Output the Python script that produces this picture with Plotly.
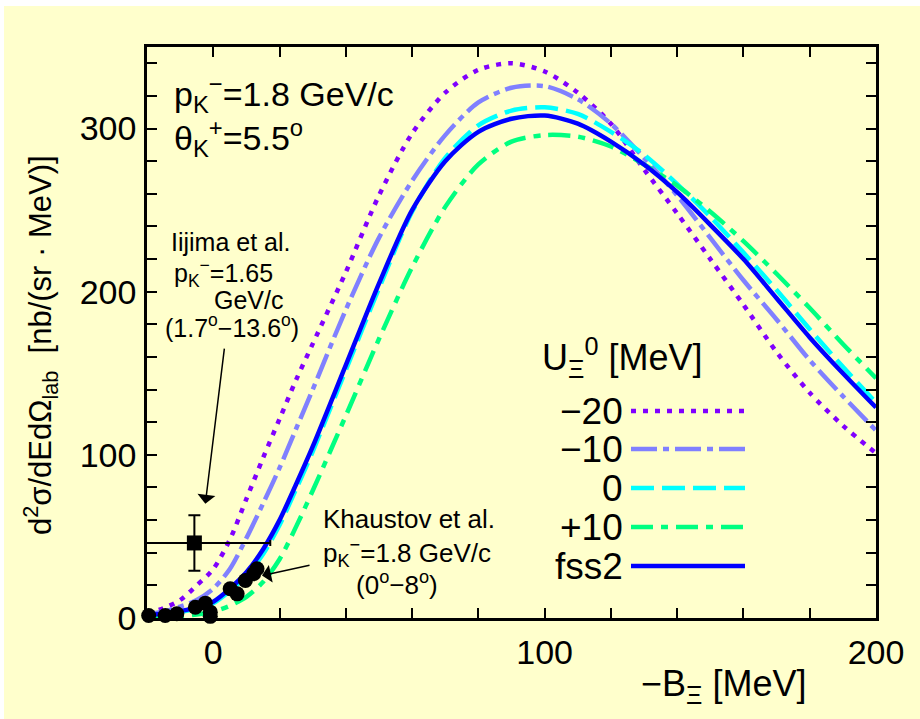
import plotly.graph_objects as go

# -B_Xi grid [MeV] on which the spectra are tabulated
binding = [-20, -15, -10, -5, 0, 5, 10, 15, 20, 25, 30, 40, 50, 60, 70,
           80, 90, 100, 110, 120, 130, 140, 150, 160, 170, 180, 190, 200]

# d2sigma/dEdOmega_lab [nb/(sr MeV)] for each Xi potential depth
u_m20 = [2.8, 6, 11, 20, 30, 48, 73, 98, 122, 146, 168, 212, 259, 297, 322,
         336, 340, 335, 322, 303, 275, 248, 220, 192, 163, 138, 118, 101]
u_m10 = [2, 4, 7, 11, 18, 30, 49, 70, 92, 116, 140, 189, 233, 268, 296,
         316, 325, 326, 318, 303, 282, 259, 233, 207, 183, 158, 136, 115]
u_0 = [1.3, 2.4, 3.7, 5.8, 9, 16.5, 26, 39, 57, 79, 102, 152, 202, 249, 282,
       302, 311, 313, 309, 298, 284, 266, 246, 224, 201, 177, 154, 132]
u_p10 = [0.5, 0.8, 1.2, 2.2, 4, 7.5, 13, 22, 36, 56, 78, 124, 171, 215, 252,
         278, 292, 296, 295, 289, 278, 265, 249, 231, 211, 190, 168, 147]
fss2 = [1.5, 2.8, 4.2, 6.5, 10, 18, 28, 42, 60, 82, 105, 155, 205, 250, 280,
        298, 306, 308, 303, 292, 278, 261, 241, 220, 196, 172, 150, 129]

series_names = ["\u221220", "\u221210", "0", "+10", "fss2"]
series_values = [u_m20, u_m10, u_0, u_p10, fss2]
series_colors = ["#8000FF", "#8080FF", "#00FFFF", "#00FF80", "#0000FF"]
series_dash = ["5px,7px", "26px,6px,6px,6px", "23px,8px", "22px,8px,7px,8px", "solid"]

# Khaustov et al. data (p_K- = 1.8 GeV/c, 0-8 deg)
khaustov_x = [-19.5, -14.5, -11, -5.4, -2.4, -0.9, -0.9, 5.1, 7.2, 9.7, 12.2, 13.2]
khaustov_y = [1.5, 1.5, 2.6, 6.6, 9.1, 3.6, 1.0, 17.9, 14.8, 23, 27.1, 30.2]

# Iijima et al. data point (p_K- = 1.65 GeV/c)
iijima_x = [-5.7]
iijima_y = [46]
iijima_yerr = [17]
iijima_xerr_plus = [22.9]
iijima_xerr_minus = [16]

x_ticks = list(range(-20, 201, 20))
x_labels = {0: "0", 100: "100", 200: "200"}
y_ticks = list(range(0, 341, 20))
y_labels = {0: "0", 100: "100", 200: "200", 300: "300"}

W, H = 920, 719
L, R, T, B = 147, 44, 47, 101
PW, PH = W - L - R, H - T - B
FONT = "Liberation Sans, Arial, sans-serif"


def fx(p):
    return (p - L) / PW


def fy(p):
    return (H - B - p) / PH


fig = go.Figure()

for i in range(len(series_values)):
    fig.add_trace(go.Scatter(
        x=binding, y=series_values[i], mode="lines", name=series_names[i],
        line=dict(color=series_colors[i], width=4.5, dash=series_dash[i],
                  shape="spline", smoothing=0.8),
        showlegend=False))

fig.add_trace(go.Scatter(
    x=khaustov_x, y=khaustov_y, mode="markers", name="Khaustov et al.",
    marker=dict(color="black", size=15, symbol="circle"),
    cliponaxis=False, showlegend=False))

fig.add_trace(go.Scatter(
    x=iijima_x, y=iijima_y, mode="markers", name="Iijima et al.",
    marker=dict(color="black", size=15, symbol="square"),
    error_y=dict(type="data", array=iijima_yerr, color="black", thickness=2, width=6),
    error_x=dict(type="data", array=iijima_xerr_plus, arrayminus=iijima_xerr_minus,
                 color="black", thickness=2, width=3),
    showlegend=False))

annotations = []
shapes = []


def text(xp, yp, s, size, xanchor="left", yanchor="middle", angle=0):
    annotations.append(dict(
        x=fx(xp), y=fy(yp), xref="paper", yref="paper", text=s, showarrow=False,
        xanchor=xanchor, yanchor=yanchor, textangle=angle,
        font=dict(family=FONT, size=size, color="black")))


text(172, 94, "p<sub>K</sub><sup>\u2212</sup>=1.8 GeV/c", 34)
text(172, 138, "\u03b8<sub>K</sub><sup>+</sup>=5.5<sup>o</sup>", 34)

text(230, 242, "Iijima et al.", 25, xanchor="center")
text(172, 273, "p<sub>K</sub><sup>\u2212</sup>=1.65", 25)
text(248, 300, "GeV/c", 25, xanchor="center")
text(232, 326, "(1.7<sup>o</sup>\u221213.6<sup>o</sup>)", 25, xanchor="center")

text(321, 519, "Khaustov et al.", 26)
text(321, 553, "p<sub>K</sub><sup>\u2212</sup>=1.8 GeV/c", 26)
text(397, 583, "(0<sup>o</sup>\u22128<sup>o</sup>)", 26, xanchor="center")

text(808, 686, "\u2212B<sub>\u039e</sub> [MeV]", 36, xanchor="right")
text(40, 345, "d<sup>2</sup>\u03c3/dEd\u03a9<sub>lab</sub>\u00a0\u00a0[nb/(sr \u00b7 MeV)]",
     31, xanchor="center", angle=-90)

# legend block: labels on the left, line samples on the right
text(540, 357, "U<sub>\u039e</sub><sup>0</sup> [MeV]", 36)
legend_rows = [411, 449, 488, 527, 566]
for i, yrow in enumerate(legend_rows):
    text(625, yrow, series_names[i], 37, xanchor="right")
    shapes.append(dict(type="line", xref="paper", yref="paper",
                       x0=fx(631), x1=fx(745), y0=fy(yrow), y1=fy(yrow),
                       line=dict(color=series_colors[i], width=4.5,
                                 dash=series_dash[i])))

# arrows pointing at the data
annotations.append(dict(x=-2.4, y=70, ax=3.4, ay=166, xref="x", yref="y",
                        axref="x", ayref="y", showarrow=True, arrowhead=1,
                        arrowsize=2, arrowwidth=1.5, arrowcolor="black", text=""))
annotations.append(dict(x=14.7, y=26, ax=29.5, ay=32.5, xref="x", yref="y",
                        axref="x", ayref="y", showarrow=True, arrowhead=1,
                        arrowsize=2, arrowwidth=1.5, arrowcolor="black", text=""))

# white page margin around the yellow panel
shapes.append(dict(type="rect", xref="paper", yref="paper", x0=fx(0), x1=fx(W),
                   y0=fy(6), y1=fy(0), fillcolor="white", line=dict(width=0)))
shapes.append(dict(type="rect", xref="paper", yref="paper", x0=fx(0), x1=fx(4),
                   y0=fy(H), y1=fy(0), fillcolor="white", line=dict(width=0)))

axis_common = dict(showgrid=False, zeroline=False, showline=True, linecolor="black",
                   linewidth=2.5, mirror="ticks", ticks="inside", ticklen=10,
                   tickwidth=2, tickcolor="black",
                   tickfont=dict(family=FONT, size=34, color="black"))

fig.update_xaxes(range=[-20, 200], tickvals=x_ticks,
                 ticktext=[x_labels.get(v, "") for v in x_ticks],
                 ticklabelstandoff=2, **axis_common)
fig.update_yaxes(range=[0, 350], tickvals=y_ticks,
                 ticktext=[y_labels.get(v, "") for v in y_ticks],
                 ticklabelstandoff=1, **axis_common)

fig.update_layout(
    width=W, height=H,
    margin=dict(l=L, r=R, t=T, b=B, pad=0),
    paper_bgcolor="#FFFFCC", plot_bgcolor="#FFFFCC",
    annotations=annotations, shapes=shapes,
    showlegend=False,
)

fig.write_html("out.html")
